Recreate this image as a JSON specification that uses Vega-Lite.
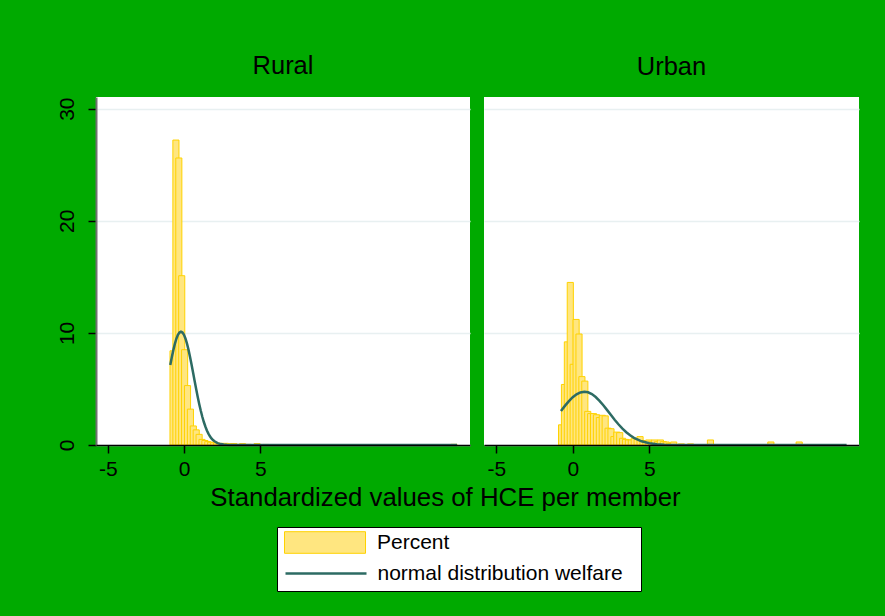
{
  "$schema": "https://vega.github.io/schema/vega-lite/v6.json",
  "background": "#00AA00",
  "padding": {"left": 56, "top": 54, "right": 26, "bottom": 25},
  "datasets": {
    "ruralBars": [
      {"x0": -0.92, "x1": -0.52, "pct": 8.4},
      {"x0": -0.73, "x1": -0.33, "pct": 27.2},
      {"x0": -0.54, "x1": -0.14, "pct": 25.6},
      {"x0": -0.35, "x1": 0.05, "pct": 15.1},
      {"x0": -0.16, "x1": 0.24, "pct": 8.5},
      {"x0": 0.03, "x1": 0.43, "pct": 5.3},
      {"x0": 0.22, "x1": 0.62, "pct": 3.2},
      {"x0": 0.41, "x1": 0.81, "pct": 1.7},
      {"x0": 0.60, "x1": 1.00, "pct": 1.35},
      {"x0": 0.79, "x1": 1.19, "pct": 0.95},
      {"x0": 0.98, "x1": 1.38, "pct": 0.5},
      {"x0": 1.17, "x1": 1.57, "pct": 0.4},
      {"x0": 1.36, "x1": 1.76, "pct": 0.3},
      {"x0": 1.55, "x1": 1.95, "pct": 0.25},
      {"x0": 1.74, "x1": 2.14, "pct": 0.2},
      {"x0": 1.93, "x1": 2.33, "pct": 0.18},
      {"x0": 2.12, "x1": 2.52, "pct": 0.15},
      {"x0": 2.31, "x1": 2.71, "pct": 0.12},
      {"x0": 2.50, "x1": 2.90, "pct": 0.15},
      {"x0": 2.69, "x1": 3.09, "pct": 0.1},
      {"x0": 2.88, "x1": 3.28, "pct": 0.1},
      {"x0": 3.07, "x1": 3.47, "pct": 0.12},
      {"x0": 3.26, "x1": 3.66, "pct": 0.06},
      {"x0": 3.64, "x1": 4.04, "pct": 0.12},
      {"x0": 4.02, "x1": 4.42, "pct": 0.06},
      {"x0": 4.59, "x1": 4.99, "pct": 0.12},
      {"x0": 5.16, "x1": 5.56, "pct": 0.05},
      {"x0": 6.11, "x1": 6.51, "pct": 0.04},
      {"x0": 17.5, "x1": 17.9, "pct": 0.06}
    ],
    "urbanBars": [
      {"x0": -0.93, "x1": -0.53, "pct": 1.8},
      {"x0": -0.74, "x1": -0.34, "pct": 5.4},
      {"x0": -0.55, "x1": -0.15, "pct": 9.2},
      {"x0": -0.36, "x1": 0.04, "pct": 14.5},
      {"x0": -0.17, "x1": 0.23, "pct": 7.2},
      {"x0": 0.02, "x1": 0.42, "pct": 11.2},
      {"x0": 0.21, "x1": 0.61, "pct": 9.9},
      {"x0": 0.40, "x1": 0.80, "pct": 6.1},
      {"x0": 0.59, "x1": 0.99, "pct": 5.7},
      {"x0": 0.78, "x1": 1.18, "pct": 3.0},
      {"x0": 0.97, "x1": 1.37, "pct": 2.8},
      {"x0": 1.16, "x1": 1.56, "pct": 2.8},
      {"x0": 1.35, "x1": 1.75, "pct": 2.7},
      {"x0": 1.54, "x1": 1.94, "pct": 2.45},
      {"x0": 1.73, "x1": 2.13, "pct": 2.65},
      {"x0": 1.92, "x1": 2.32, "pct": 2.6},
      {"x0": 2.11, "x1": 2.51, "pct": 1.5},
      {"x0": 2.30, "x1": 2.70, "pct": 1.45},
      {"x0": 2.49, "x1": 2.89, "pct": 0.75},
      {"x0": 2.68, "x1": 3.08, "pct": 1.15},
      {"x0": 2.87, "x1": 3.27, "pct": 1.1},
      {"x0": 3.06, "x1": 3.46, "pct": 0.6},
      {"x0": 3.25, "x1": 3.65, "pct": 0.5},
      {"x0": 3.44, "x1": 3.84, "pct": 0.45},
      {"x0": 3.63, "x1": 4.03, "pct": 0.45},
      {"x0": 3.82, "x1": 4.22, "pct": 0.6},
      {"x0": 4.01, "x1": 4.41, "pct": 0.5},
      {"x0": 4.20, "x1": 4.60, "pct": 0.75},
      {"x0": 4.39, "x1": 4.79, "pct": 0.4},
      {"x0": 4.58, "x1": 4.98, "pct": 0.35},
      {"x0": 4.77, "x1": 5.17, "pct": 0.45},
      {"x0": 4.96, "x1": 5.36, "pct": 0.3},
      {"x0": 5.15, "x1": 5.55, "pct": 0.45},
      {"x0": 5.34, "x1": 5.74, "pct": 0.3},
      {"x0": 5.53, "x1": 5.93, "pct": 0.45},
      {"x0": 5.72, "x1": 6.12, "pct": 0.3},
      {"x0": 5.91, "x1": 6.31, "pct": 0.27},
      {"x0": 6.10, "x1": 6.50, "pct": 0.15},
      {"x0": 6.40, "x1": 6.80, "pct": 0.27},
      {"x0": 6.90, "x1": 7.30, "pct": 0.1},
      {"x0": 7.50, "x1": 7.90, "pct": 0.1},
      {"x0": 8.80, "x1": 9.20, "pct": 0.45},
      {"x0": 12.75, "x1": 13.15, "pct": 0.27},
      {"x0": 14.60, "x1": 15.00, "pct": 0.27}
    ],
    "ruralCurve": [
      {"x": -0.9, "v": 7.14}, {"x": -0.8, "v": 7.83}, {"x": -0.7, "v": 8.46}, {"x": -0.6, "v": 9.02},
      {"x": -0.5, "v": 9.48}, {"x": -0.4, "v": 9.82}, {"x": -0.3, "v": 10.03}, {"x": -0.2, "v": 10.1},
      {"x": -0.1, "v": 10.03}, {"x": 0.0, "v": 9.82}, {"x": 0.1, "v": 9.48}, {"x": 0.2, "v": 9.02},
      {"x": 0.3, "v": 8.46}, {"x": 0.4, "v": 7.83}, {"x": 0.5, "v": 7.14}, {"x": 0.6, "v": 6.42},
      {"x": 0.7, "v": 5.69}, {"x": 0.8, "v": 4.97}, {"x": 0.9, "v": 4.28}, {"x": 1.0, "v": 3.64},
      {"x": 1.1, "v": 3.05}, {"x": 1.2, "v": 2.52}, {"x": 1.3, "v": 2.05}, {"x": 1.4, "v": 1.65},
      {"x": 1.5, "v": 1.30}, {"x": 1.6, "v": 1.02}, {"x": 1.7, "v": 0.78}, {"x": 1.8, "v": 0.59},
      {"x": 1.9, "v": 0.44}, {"x": 2.0, "v": 0.33}, {"x": 2.2, "v": 0.17}, {"x": 2.4, "v": 0.08},
      {"x": 2.6, "v": 0.04}, {"x": 2.8, "v": 0.017}, {"x": 3.0, "v": 0.007}, {"x": 3.5, "v": 0.0},
      {"x": 17.9, "v": 0.0}
    ],
    "urbanCurve": [
      {"x": -0.77, "v": 3.04}, {"x": -0.5, "v": 3.51}, {"x": -0.25, "v": 3.91}, {"x": 0.0, "v": 4.26},
      {"x": 0.25, "v": 4.52}, {"x": 0.5, "v": 4.69}, {"x": 0.76, "v": 4.75}, {"x": 1.0, "v": 4.70},
      {"x": 1.25, "v": 4.54}, {"x": 1.5, "v": 4.28}, {"x": 1.75, "v": 3.94}, {"x": 2.0, "v": 3.54},
      {"x": 2.25, "v": 3.11}, {"x": 2.5, "v": 2.67}, {"x": 2.75, "v": 2.23}, {"x": 3.0, "v": 1.83},
      {"x": 3.25, "v": 1.46}, {"x": 3.5, "v": 1.14}, {"x": 3.75, "v": 0.865}, {"x": 4.0, "v": 0.64},
      {"x": 4.5, "v": 0.33}, {"x": 5.0, "v": 0.155}, {"x": 5.5, "v": 0.066}, {"x": 6.0, "v": 0.026},
      {"x": 7.0, "v": 0.003}, {"x": 8.0, "v": 0.0}, {"x": 17.9, "v": 0.0}
    ]
  },
  "spacing": 14,
  "bounds": "flush",
  "resolve": {"scale": {"fill": "shared", "stroke": "shared"}, "legend": {"fill": "shared", "stroke": "shared"}},
  "hconcat": [
    {
      "width": 374,
      "height": 348,
      "title": "Rural",
      "layer": [
        {
          "data": {"name": "ruralBars"},
          "mark": {"type": "bar", "stroke": "#FFD200", "strokeWidth": 1, "fillOpacity": 1, "opacity": 1},
          "encoding": {
            "x": {"field": "x0", "type": "quantitative",
                  "scale": {"domain": [-5.77, 18.75], "nice": false, "zero": false},
                  "axis": {"values": [-5, 0, 5], "labelExpr": "'' + datum.value", "title": "Standardized values of HCE per member",
                           "titleX": 349, "titleY": 60, "titleBaseline": "alphabetic", "titleAlign": "center",
                           "titleFontSize": 25.8, "titleFontWeight": "normal", "titleColor": "black", "titleFont": "Liberation Sans",
                           "domainColor": "black", "domainWidth": 1.5, "grid": false, "labelPadding": 5,
                           "labelFlush": false, "zindex": 1}},
            "x2": {"field": "x1"},
            "y": {"field": "pct", "type": "quantitative", "stack": null,
                  "scale": {"domain": [0, 31.04], "nice": false, "zero": true},
                  "axis": {"values": [0, 10, 20, 30], "title": null, "labelAngle": -90, "labelAlign": "center",
                           "labelBaseline": "alphabetic", "labelPadding": 15, "domainColor": "#707070",
                           "domainWidth": 2, "grid": true, "labelFlush": false, "zindex": 0}},
            "y2": {"datum": 0},
            "fill": {"datum": "Percent", "type": "nominal",
                     "scale": {"domain": ["Percent"], "range": ["#FFE680"]},
                     "legend": {
                       "orient": "none", "legendX": 181, "legendY": 430, "title": null,
                       "fillColor": "white", "strokeColor": "black", "padding": 5,
                       "symbolSize": 400, "symbolType": "M-0.8,-1.08H7.3V1.08H-0.8ZM34.1,4.1",
                       "symbolStrokeColor": "#FFD200", "symbolStrokeWidth": 1, "symbolOpacity": 1,
                       "labelFont": "Liberation Sans", "labelFontSize": 21, "labelColor": "black",
                       "labelOffset": 74, "labelLimit": 400, "labelBaseline": "middle"
                     }}
          }
        },
        {
          "data": {"name": "ruralCurve"},
          "mark": {"type": "line", "strokeWidth": 2.5},
          "encoding": {
            "x": {"field": "x", "type": "quantitative"},
            "y": {"field": "v", "type": "quantitative"},
            "stroke": {"datum": "normal distribution welfare", "type": "nominal",
                       "scale": {"domain": ["normal distribution welfare"], "range": ["#2D6B63"]},
                       "legend": {
                         "orient": "none", "legendX": 181, "legendY": 460, "title": null, "padding": 5,
                         "symbolSize": 400, "symbolType": "M-0.8,0H7.3", "symbolStrokeWidth": 2.5,
                         "symbolFillColor": "transparent", "symbolOpacity": 1,
                         "labelFont": "Liberation Sans", "labelFontSize": 21, "labelColor": "black",
                         "labelOffset": 72.5, "labelLimit": 400, "labelBaseline": "middle", "zindex": 1
                       }}
          }
        }
      ]
    },
    {
      "width": 375,
      "height": 348,
      "title": "Urban",
      "layer": [
        {
          "data": {"name": "urbanBars"},
          "mark": {"type": "bar", "stroke": "#FFD200", "strokeWidth": 1, "fillOpacity": 1, "opacity": 1},
          "encoding": {
            "x": {"field": "x0", "type": "quantitative",
                  "scale": {"domain": [-5.8, 18.71], "nice": false, "zero": false},
                  "axis": {"values": [-5, 0, 5], "labelExpr": "'' + datum.value", "title": null,
                           "domainColor": "black", "domainWidth": 1.5, "grid": false, "labelPadding": 5,
                           "labelFlush": false, "zindex": 1}},
            "x2": {"field": "x1"},
            "y": {"field": "pct", "type": "quantitative", "stack": null,
                  "scale": {"domain": [0, 31.04], "nice": false, "zero": true},
                  "axis": {"values": [0, 10, 20, 30], "title": null, "labels": false, "ticks": false,
                           "domain": false, "grid": true, "zindex": 0}},
            "y2": {"datum": 0},
            "fill": {"datum": "Percent", "type": "nominal"}
          }
        },
        {
          "data": {"name": "urbanCurve"},
          "mark": {"type": "line", "strokeWidth": 2.5},
          "encoding": {
            "x": {"field": "x", "type": "quantitative"},
            "y": {"field": "v", "type": "quantitative"},
            "stroke": {"datum": "normal distribution welfare", "type": "nominal"}
          }
        }
      ]
    }
  ],
  "config": {
    "font": "Liberation Sans",
    "view": {"stroke": null, "fill": "white"},
    "axis": {"labelFont": "Liberation Sans", "labelColor": "black", "labelFontSize": 21,
             "tickColor": "black", "tickSize": 8, "tickWidth": 1.5,
             "gridColor": "#E8F0F1", "gridWidth": 1.5},
    "title": {"font": "Liberation Sans", "fontSize": 25.5, "fontWeight": "normal", "color": "black",
              "anchor": "middle", "baseline": "alphabetic", "offset": 17}
  }
}
